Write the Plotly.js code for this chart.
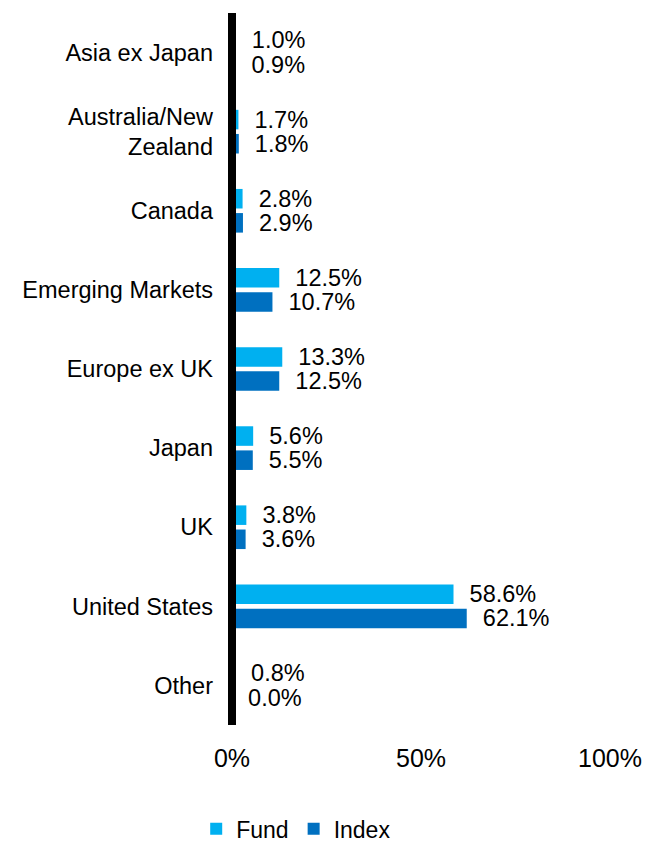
<!DOCTYPE html>
<html>
<head>
<meta charset="utf-8">
<script src="https://cdn.plot.ly/plotly-3.0.1.min.js"></script>
<style>html,body{margin:0;padding:0;background:#fff}#chart{width:651px;height:844px}</style>
</head>
<body>
<div id="chart"></div>
<script>
const categories = ["Asia ex Japan", "Australia/New<br>Zealand", "Canada", "Emerging Markets", "Europe ex UK", "Japan", "UK", "United States", "Other"];
const fundValues = [1.0, 1.7, 2.8, 12.5, 13.3, 5.6, 3.8, 58.6, 0.8];
const indexValues = [0.9, 1.8, 2.9, 10.7, 12.5, 5.5, 3.6, 62.1, 0.0];
const xTickVals = [0, 50, 100];
const xTickText = ["0%", "50%", "100%"];

const FONT = "Liberation Sans, Arial, sans-serif";
const pad = "\u00a0\u00a0";

const traces = [
  {
    type: "bar", orientation: "h", name: "Fund",
    y: categories, x: fundValues,
    marker: {color: "#00B0F0"},
    texttemplate: pad + "%{x:.1f}%", textposition: "outside",
    constraintext: "none", cliponaxis: false,
    textfont: {family: FONT, size: 23.5, color: "#000"},
    hoverinfo: "skip"
  },
  {
    type: "bar", orientation: "h", name: "Index",
    y: categories, x: indexValues,
    marker: {color: "#0070C0"},
    texttemplate: pad + "%{x:.1f}%", textposition: "outside",
    constraintext: "none", cliponaxis: false,
    textfont: {family: FONT, size: 23.5, color: "#000"},
    hoverinfo: "skip"
  }
];

const layout = {
  width: 651, height: 844,
  margin: {l: 232, r: 41, t: 13, b: 119},
  paper_bgcolor: "#fff", plot_bgcolor: "#fff",
  font: {family: FONT, color: "#000"},
  barmode: "group", bargap: 0.39, bargroupgap: 0.19,
  showlegend: true,
  xaxis: {
    range: [0, 100], tickvals: xTickVals, ticktext: xTickText,
    showgrid: false, zeroline: false, showline: false, ticks: "",
    tickfont: {family: FONT, size: 25, color: "#000"},
    ticklabelstandoff: 16, fixedrange: true
  },
  yaxis: {
    type: "category", autorange: "reversed",
    showgrid: false, zeroline: false, showline: false, ticks: "",
    tickfont: {family: FONT, size: 23.5, color: "#000"},
    ticklabelstandoff: 18, fixedrange: true
  },
  shapes: [{
    type: "line", xref: "paper", yref: "paper", x0: 0, x1: 0, y0: 0, y1: 1,
    line: {color: "#000", width: 8}, layer: "above"
  }],
  legend: {
    orientation: "h", xref: "container", yref: "container",
    x: 0.455, xanchor: "center", y: 0.018, yanchor: "middle",
    font: {family: FONT, size: 23, color: "#000"},
    traceorder: "normal"
  }
};

Plotly.newPlot("chart", traces, layout, {displayModeBar: false, staticPlot: true});
</script>
</body>
</html>
